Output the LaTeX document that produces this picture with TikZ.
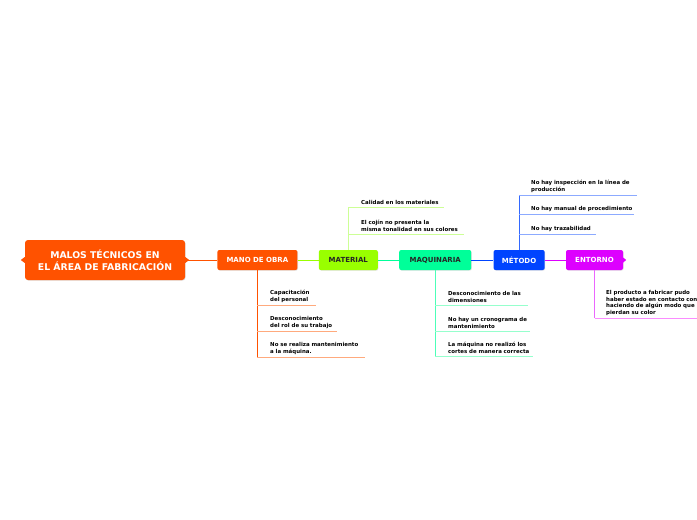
\documentclass[tikz,border=0pt]{standalone}
\usepackage{fontspec}
\setmainfont{DejaVu Sans}
\usetikzlibrary{positioning,shadows}
\definecolor{obra}{RGB}{255,82,0}
\definecolor{obrapale}{RGB}{255,170,125}
\definecolor{material}{RGB}{153,255,0}
\definecolor{materialpale}{RGB}{205,255,150}
\definecolor{maquina}{RGB}{0,255,153}
\definecolor{maquinapale}{RGB}{150,255,205}
\definecolor{metodo}{RGB}{0,68,255}
\definecolor{metodopale}{RGB}{140,170,255}
\definecolor{entorno}{RGB}{221,0,255}
\definecolor{entornopale}{RGB}{250,140,255}
\tikzset{
	topic/.style={rounded corners=3pt, align=center, minimum height=40pt, minimum width=160pt, fill=obra, text=white, font=\bfseries\fontsize{9.3}{12.5}\selectfont, drop shadow={shadow xshift=0.6pt, shadow yshift=-0.6pt, opacity=0.25}},
	cat/.style={rounded corners=2pt, align=center, minimum height=20pt, inner sep=0pt, font=\bfseries\fontsize{7}{8}\selectfont, drop shadow={shadow xshift=0.6pt, shadow yshift=-0.6pt, opacity=0.25}},
	leaf/.style={anchor=south west, align=left, inner xsep=0pt, inner ysep=2pt, text=black, font=\bfseries\fontsize{5.45}{6.8}\selectfont},
	link/.style={line width=0.9pt},
	twig/.style={line width=0.8pt}
}
\begin{document}
\begin{tikzpicture}[x=1pt, y=-1pt, node distance=21pt]
	\useasboundingbox (0,0) rectangle (697,520);
	% main chain
	\node[topic] (fallas) at (105,260) {MALOS TÉCNICOS EN\\EL ÁREA DE FABRICACIÓN};
	\node[cat, right=32pt of fallas, minimum width=80pt, fill=obra, text=white] (obra) {MANO DE OBRA};
	\node[cat, right=of obra, minimum width=59pt, fill=material, text=black!85] (material) {MATERIAL};
	\node[cat, right=of material, minimum width=72pt, fill=maquina, text=black!85] (maquina) {MAQUINARIA};
	\node[cat, right=22pt of maquina, minimum width=51pt, fill=metodo, text=white] (metodo) {MÉTODO};
	\node[cat, right=of metodo, minimum width=57pt, fill=entorno, text=white] (entorno) {ENTORNO};
	\fill[obra] (fallas.west) ++(0,-3) -- ++(-4,3) -- ++(4,3) -- cycle;
	\fill[obra] (fallas.east) ++(0,-3) -- ++(4,3) -- ++(-4,3) -- cycle;
	\fill[entorno] (entorno.east) ++(0,-2.5) -- ++(3,2.5) -- ++(-3,2.5) -- cycle;
	\draw[link, obra] (fallas) -- (obra);
	\draw[link, material] (obra) -- (material);
	\draw[link, maquina] (material) -- (maquina);
	\draw[link, metodo] (maquina) -- (metodo);
	\draw[link, entorno] (metodo) -- (entorno);

	% mano de obra
	\node[leaf, text width=46pt] (c1) at (270,305) {Capacitación\\del personal};
	\node[leaf, text width=67pt] (c2) at (270,331) {Desconocimiento\\del rol de su trabajo};
	\node[leaf, text width=95pt] (c3) at (270,357) {No se realiza mantenimiento\\a la máquina.};
	\draw[twig, obra] (obra.south) -- (obra |- c3.south);
	\foreach \l in {c1,c2,c3}
		\draw[twig, obrapale] (obra |- \l.south) -- (\l.south east);

	% material
	\node[leaf, text width=83pt] (m1) at (361,207) {Calidad en los materiales};
	\node[leaf, text width=103pt] (m2) at (361,234) {El cojín no presenta la\\misma tonalidad en sus colores};
	\draw[twig, materialpale] (material.north) -- (material |- m1.south);
	\foreach \l in {m1,m2}
		\draw[twig, materialpale] (material |- \l.south) -- (\l.south east);

	% maquinaria
	\node[leaf, text width=80pt] (q1) at (448,305) {Desconocimiento de las\\dimensiones};
	\node[leaf, text width=82pt] (q2) at (448,331) {No hay un cronograma de\\mantenimiento};
	\node[leaf, text width=85pt] (q3) at (448,356) {La máquina no realizó los\\cortes de manera correcta};
	\draw[twig, maquina!70] (maquina.south) -- (maquina |- q3.south);
	\foreach \l in {q1,q2,q3}
		\draw[twig, maquinapale] (maquina |- \l.south) -- (\l.south east);

	% metodo
	\node[leaf, text width=106pt] (t1) at (531,195) {No hay inspección en la línea de\\producción};
	\node[leaf, text width=103pt] (t2) at (531,214) {No hay manual de procedimiento};
	\node[leaf, text width=65pt] (t3) at (531,234) {No hay trazabilidad};
	\draw[twig, metodo!80] (metodo.north) -- (metodo |- t1.south);
	\foreach \l in {t1,t2,t3}
		\draw[twig, metodopale] (metodo |- \l.south) -- (\l.south east);

	% entorno
	\node[leaf, text width=100pt] (e1) at (606,318) {El producto a fabricar pudo\\haber estado en contacto con\\haciendo de algún modo que\\pierdan su color};
	\draw[twig, entorno!60] (entorno.south) -- (entorno |- e1.south);
	\draw[twig, entornopale] (entorno |- e1.south) -- (e1.south east);
\end{tikzpicture}
\end{document}
